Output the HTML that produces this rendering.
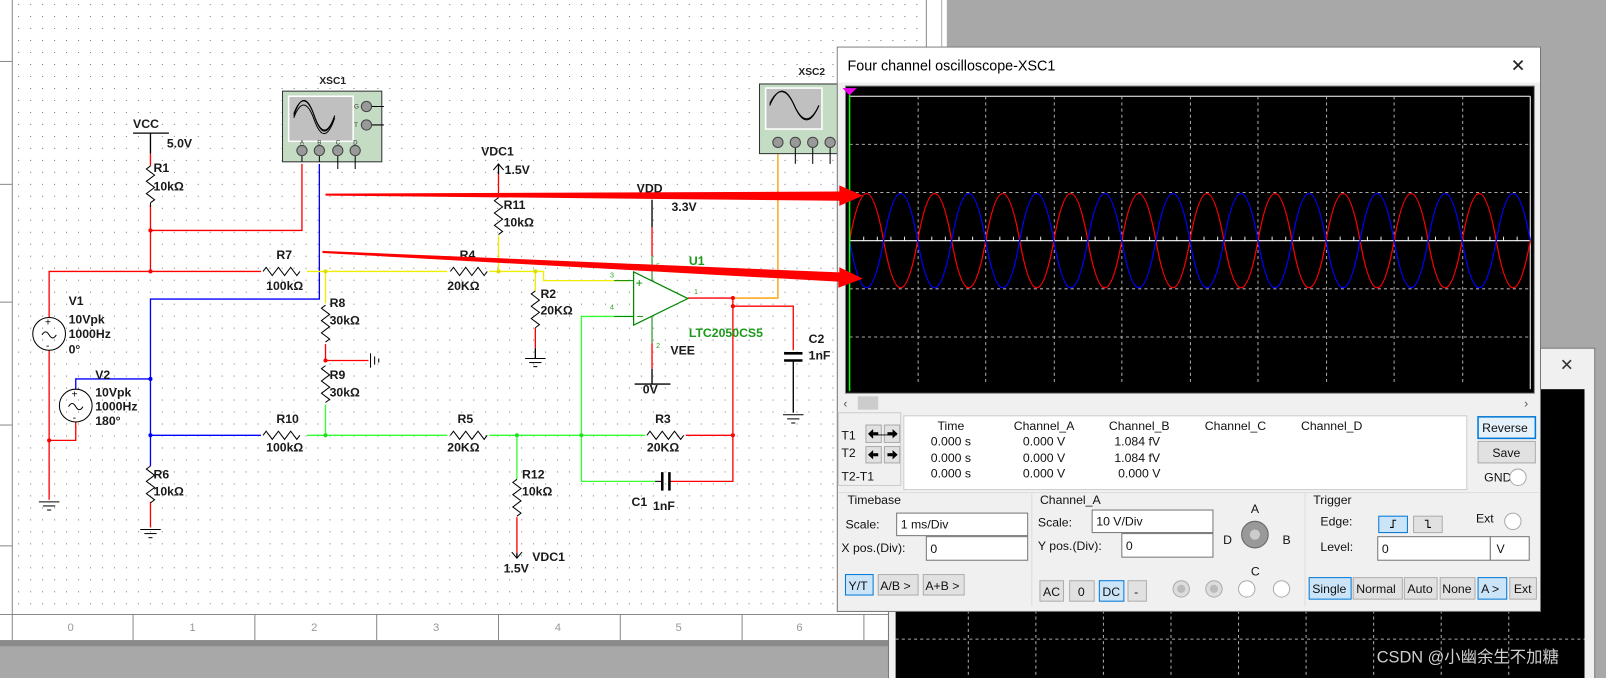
<!DOCTYPE html>
<html><head><meta charset="utf-8"><style>
html,body{margin:0;padding:0;background:#a8a8a8;overflow:hidden}
svg{display:block}
text{font-family:"Liberation Sans","Noto Sans CJK SC",sans-serif}
.s{font-size:12px;font-weight:bold;fill:#1a1a1a}
.u{font-size:12px;fill:#111}
</style></head><body>
<svg width="1606" height="678" viewBox="0 0 1569 662" preserveAspectRatio="none" xmlns="http://www.w3.org/2000/svg">
<defs>
<pattern id="dots" x="6" y="4" width="11.7" height="11.7" patternUnits="userSpaceOnUse"><rect x="0" y="0" width="1" height="1" fill="#777"/></pattern>
<path id="rh" d="M0 0 l3 -4 l6 8 l6 -8 l6 8 l6 -8 l6 8 l3 -4" fill="none" stroke="#000" stroke-width="1"/>
<path id="rv" d="M0 0 l-4 3 l8 6 l-8 6 l8 6 l-8 6 l8 6 l-4 3" fill="none" stroke="#000" stroke-width="1"/>
<g id="gnd"><line x1="-10" y1="0" x2="10" y2="0" stroke="#000"/><line x1="-6" y1="4" x2="6" y2="4" stroke="#000"/><line x1="-2" y1="8" x2="2" y2="8" stroke="#000"/></g>
</defs>
<!-- background -->
<rect x="0" y="0" width="1569" height="662" fill="#a8a8a8"/>
<rect x="0" y="0" width="925" height="625" fill="#fff"/>
<rect x="12" y="0" width="893" height="600" fill="url(#dots)"/>
<line x1="12" y1="0" x2="12" y2="625" stroke="#888"/>
<line x1="905" y1="0" x2="905" y2="625" stroke="#888"/>
<line x1="920" y1="0" x2="920" y2="625" stroke="#aaa"/>
<line x1="0" y1="600" x2="905" y2="600" stroke="#888"/>
<g stroke="#888"><line x1="0" y1="60" x2="12" y2="60"/><line x1="0" y1="180" x2="12" y2="180"/><line x1="0" y1="295" x2="12" y2="295"/><line x1="0" y1="415" x2="12" y2="415"/><line x1="0" y1="533" x2="12" y2="533"/>
<line x1="130" y1="600" x2="130" y2="625"/><line x1="249" y1="600" x2="249" y2="625"/><line x1="368" y1="600" x2="368" y2="625"/><line x1="487" y1="600" x2="487" y2="625"/><line x1="606" y1="600" x2="606" y2="625"/><line x1="725" y1="600" x2="725" y2="625"/><line x1="844" y1="600" x2="844" y2="625"/></g>
<g font-size="11" fill="#999"><text x="66" y="616">0</text><text x="185" y="616">1</text><text x="304" y="616">2</text><text x="423" y="616">3</text><text x="542" y="616">4</text><text x="660" y="616">5</text><text x="778" y="616">6</text></g>
<rect x="0" y="625" width="925" height="6" fill="#8a8a8a"/>

<!-- wires -->
<g fill="none" stroke-width="1.3">
<!-- red -->
<polyline stroke="#f00" points="147,150 147,162"/>
<polyline stroke="#f00" points="147,200 147,265"/>
<polyline stroke="#f00" points="147,225 295,225 295,160"/>
<polyline stroke="#f00" points="48,310 48,265 255,265"/>
<polyline stroke="#f00" points="48,342 48,488"/>
<polyline stroke="#f00" points="48,430 74,430 74,412"/>
<polyline stroke="#f00" points="147,490 147,515"/>
<polyline stroke="#f00" points="318,336 318,352 360,352"/>
<polyline stroke="#f00" points="487,170 487,193"/>
<polyline stroke="#f00" points="523,320 523,340"/>
<polyline stroke="#f00" points="505,505 505,540"/>
<polyline stroke="#f00" points="672,291 716,291 716,470 654,470"/>
<polyline stroke="#f00" points="716,299 775,299 775,342"/>
<polyline stroke="#f00" points="670,425 716,425"/>
<polyline stroke="#f00" points="637,222 637,250"/>
<polyline stroke="#f00" points="637,335 637,360"/>
<!-- blue -->
<polyline stroke="#00f" points="312,160 312,292 147,292 147,455"/>
<polyline stroke="#00f" points="74,380 74,370 147,370"/>
<polyline stroke="#00f" points="147,425 255,425"/>
<!-- yellow -->
<polyline stroke="#ee0" points="300,265 437,265"/>
<polyline stroke="#ee0" points="478,265 531,265 531,274 615,274"/>
<polyline stroke="#ee0" points="318,265 318,296"/>
<polyline stroke="#ee0" points="487,230 487,265"/>
<polyline stroke="#ee0" points="523,265 523,284"/>
<!-- green -->
<polyline stroke="#3f3" points="300,425 437,425"/>
<polyline stroke="#3f3" points="478,425 630,425"/>
<polyline stroke="#3f3" points="318,395 318,425"/>
<polyline stroke="#3f3" points="505,425 505,468"/>
<polyline stroke="#3f3" points="619,309 568,309 568,470 640,470"/>
<!-- orange -->
<polyline stroke="#f90" points="716,291 760,291 760,150"/>
<!-- black -->
<polyline stroke="#000" points="147,130 147,150"/>
<line x1="130" y1="130" x2="165" y2="130" stroke="#000"/>
<polyline stroke="#000" points="487,160 487,170"/>
<polyline stroke="#000" points="637,195 637,222"/>
<line x1="620" y1="375" x2="655" y2="375" stroke="#000"/>
<polyline stroke="#000" points="637,360 637,375"/>
<polyline stroke="#000" points="775,352 775,403"/>
<polyline stroke="#000" points="523,340 523,350"/>
<polyline stroke="#000" points="505,540 505,545"/>
</g>
<!-- junctions -->
<g fill="#f00"><circle cx="147" cy="225" r="2"/><circle cx="147" cy="265" r="2"/><circle cx="48" cy="430" r="2"/><circle cx="318" cy="352" r="2"/><circle cx="716" cy="291" r="2"/><circle cx="716" cy="299" r="2"/><circle cx="716" cy="425" r="2"/></g>
<g fill="#00f"><circle cx="147" cy="370" r="2"/><circle cx="147" cy="425" r="2"/></g>
<g fill="#dd0"><circle cx="318" cy="265" r="2"/><circle cx="487" cy="265" r="2"/><circle cx="523" cy="265" r="2"/></g>
<g fill="#2d2"><circle cx="318" cy="425" r="2"/><circle cx="505" cy="425" r="2"/><circle cx="568" cy="425" r="2"/></g>
<!-- resistors -->
<use href="#rv" x="147" y="162"/><use href="#rv" x="487" y="193"/><use href="#rv" x="523" y="284"/>
<use href="#rv" x="318" y="298"/><use href="#rv" x="318" y="357"/><use href="#rv" x="147" y="455"/><use href="#rv" x="505" y="468"/>
<use href="#rh" x="257" y="265"/><use href="#rh" x="440" y="265"/><use href="#rh" x="257" y="425"/><use href="#rh" x="440" y="425"/><use href="#rh" x="632" y="425"/>
<g stroke="#000" fill="none"><line x1="147" y1="198" x2="147" y2="202"/></g>
<!-- grounds -->
<use href="#gnd" x="48" y="490"/><use href="#gnd" x="147" y="517"/><use href="#gnd" x="523" y="350"/><use href="#gnd" x="775" y="405"/>
<g stroke="#000"><line x1="362" y1="345" x2="362" y2="359"/><line x1="366" y1="348" x2="366" y2="356"/><line x1="370" y1="350" x2="370" y2="354"/></g>
<!-- arrows VDC -->
<path d="M482 166 L487 160 L492 166" fill="none" stroke="#000"/>
<path d="M500 539 L505 545 L510 539" fill="none" stroke="#000"/>
<!-- capacitors -->
<g stroke="#000" stroke-width="2.5"><line x1="766" y1="345" x2="784" y2="345"/><line x1="766" y1="352" x2="784" y2="352"/><line x1="647" y1="461" x2="647" y2="479"/><line x1="654" y1="461" x2="654" y2="479"/></g>
<line x1="640" y1="470" x2="647" y2="470" stroke="#000"/>
<!-- sources -->
<g fill="none" stroke="#000"><circle cx="48" cy="326" r="16"/><circle cx="74" cy="396" r="16"/>
<path d="M41 327 q3.5 -6 7 0 t7 0"/><path d="M67 397 q3.5 -6 7 0 t7 0"/></g>
<g font-size="10" fill="#000"><text x="44" y="318">+</text><text x="45" y="341">-</text><text x="70" y="388">+</text><text x="71" y="411">-</text></g>
<!-- opamp -->
<polygon points="619,265.5 619,317.5 672,291.5" fill="#fff" stroke="#080" stroke-width="1.2"/>
<g stroke="#080"><line x1="637" y1="250" x2="637" y2="274"/><line x1="637" y1="309" x2="637" y2="335"/><line x1="600" y1="274" x2="619" y2="274"/><line x1="600" y1="309" x2="619" y2="309"/></g>
<g font-size="12" fill="#080"><text x="621" y="280">+</text><text x="622" y="313">−</text></g>
<g font-size="7" fill="#2a2"><text x="596" y="271">3</text><text x="596" y="302">4</text><text x="641" y="262">5</text><text x="678" y="287">1</text><text x="641" y="340">2</text></g>
<text x="673" y="259" font-size="12" font-weight="bold" fill="#1a9a1a">U1</text>
<text x="673" y="329" font-size="12" font-weight="bold" fill="#1a9a1a">LTC2050CS5</text>
<!-- labels -->
<g class="s">
<text x="130" y="125">VCC</text><text x="163" y="144">5.0V</text>
<text x="150" y="168">R1</text><text x="150" y="186">10kΩ</text>
<text x="270" y="253">R7</text><text x="260" y="283">100kΩ</text>
<text x="449" y="253">R4</text><text x="437" y="283">20KΩ</text>
<text x="470" y="152">VDC1</text><text x="493" y="170">1.5V</text>
<text x="492" y="204">R11</text><text x="492" y="221">10kΩ</text>
<text x="528" y="291">R2</text><text x="528" y="307">20KΩ</text>
<text x="622" y="188">VDD</text><text x="656" y="206">3.3V</text>
<text x="655" y="346">VEE</text><text x="628" y="384">0V</text>
<text x="322" y="300">R8</text><text x="322" y="317">30kΩ</text>
<text x="322" y="370">R9</text><text x="322" y="387">30kΩ</text>
<text x="67" y="298">V1</text><text x="67" y="316">10Vpk</text><text x="67" y="330">1000Hz</text><text x="67" y="345">0°</text>
<text x="93" y="370">V2</text><text x="93" y="387">10Vpk</text><text x="93" y="401">1000Hz</text><text x="93" y="415">180°</text>
<text x="270" y="413">R10</text><text x="260" y="441">100kΩ</text>
<text x="447" y="413">R5</text><text x="437" y="441">20KΩ</text>
<text x="640" y="413">R3</text><text x="632" y="441">20KΩ</text>
<text x="150" y="467">R6</text><text x="150" y="484">10kΩ</text>
<text x="510" y="467">R12</text><text x="510" y="484">10kΩ</text>
<text x="520" y="548">VDC1</text><text x="492" y="559">1.5V</text>
<text x="790" y="335">C2</text><text x="790" y="351">1nF</text>
<text x="617" y="494">C1</text><text x="638" y="498">1nF</text>
</g>
<!-- XSC1 -->
<text x="312" y="82" font-size="10" font-weight="bold" fill="#222">XSC1</text>
<rect x="276" y="89" width="97" height="69" fill="#c4dcc4" stroke="#333"/>
<rect x="282" y="94" width="63" height="44" fill="#c0c0c0" stroke="#fff" stroke-width="1.5"/>
<g fill="none" stroke="#000"><path d="M287 113 q10 -30 20 0 t20 0"/><path d="M287 111 q10 -26 20 2 t20 0"/><path d="M287 115 q10 -26 20 2 t20 -2"/></g>
<g stroke="#000"><line x1="295" y1="147" x2="295" y2="158"/><line x1="312" y1="147" x2="312" y2="158"/><line x1="330" y1="147" x2="330" y2="165"/><line x1="347" y1="147" x2="347" y2="165"/><line x1="358" y1="104" x2="375" y2="104"/><line x1="358" y1="122" x2="375" y2="122"/></g>
<g fill="#999" stroke="#444"><circle cx="295" cy="147" r="5"/><circle cx="312" cy="147" r="5"/><circle cx="330" cy="147" r="5"/><circle cx="347" cy="147" r="5"/><circle cx="358" cy="104" r="5"/><circle cx="358" cy="122" r="5"/></g>
<g font-size="6" fill="#333"><text x="293" y="141">A</text><text x="310" y="141">B</text><text x="328" y="141">C</text><text x="345" y="141">D</text><text x="346" y="106">G</text><text x="346" y="124">T</text></g>
<!-- XSC2 -->
<text x="780" y="73" font-size="10" font-weight="bold" fill="#222">XSC2</text>
<rect x="742" y="82" width="80" height="68" fill="#c4dcc4" stroke="#333"/>
<rect x="748" y="86" width="55" height="40" fill="#c0c0c0" stroke="#fff" stroke-width="1.5"/>
<g fill="none" stroke="#000"><path d="M752 103 q12 -28 24 0 t24 0"/><path d="M752 101 q12 -24 24 2 t24 0"/></g>
<g stroke="#000"><line x1="777" y1="139" x2="777" y2="160"/><line x1="794" y1="139" x2="794" y2="160"/><line x1="811" y1="139" x2="811" y2="160"/></g>
<g fill="#999" stroke="#444"><circle cx="760" cy="139" r="5"/><circle cx="777" cy="139" r="5"/><circle cx="794" cy="139" r="5"/><circle cx="811" cy="139" r="5"/></g>

<!-- back window -->
<rect x="868" y="340" width="690" height="330" fill="#f0f0f0" stroke="#777"/>
<text x="1524" y="362" font-size="16" fill="#333">✕</text>
<rect x="875" y="380" width="673" height="290" fill="#000"/>
<g stroke="#aaa" stroke-dasharray="3 3"><line x1="875" y1="624" x2="1548" y2="624"/><line x1="946" y1="380" x2="946" y2="662"/><line x1="1012" y1="380" x2="1012" y2="662"/><line x1="1078" y1="380" x2="1078" y2="662"/><line x1="1144" y1="380" x2="1144" y2="662"/><line x1="1210" y1="380" x2="1210" y2="662"/><line x1="1276" y1="380" x2="1276" y2="662"/><line x1="1342" y1="380" x2="1342" y2="662"/><line x1="1408" y1="380" x2="1408" y2="662"/><line x1="1474" y1="380" x2="1474" y2="662"/></g>
<text x="1345" y="647" font-size="16" fill="#cfcfcf">CSDN @小幽余生不加糖</text>

<!-- main scope window -->
<rect x="818" y="46" width="687" height="551" fill="#f0f0f0" stroke="#777"/>
<rect x="818.5" y="46.5" width="686" height="34" fill="#fff"/>
<text x="828" y="69" font-size="14" fill="#000">Four channel oscilloscope-XSC1</text>
<text x="1476" y="70" font-size="17" fill="#222">✕</text>
<rect x="826" y="84" width="673" height="300" fill="#000" stroke="#888"/>
<line x1="830" y1="94" x2="1495" y2="94" stroke="#fff"/>
<line x1="1495" y1="94" x2="1495" y2="380" stroke="#fff"/>
<g stroke="#aaa" stroke-dasharray="3 3">
<line x1="830" y1="141" x2="1495" y2="141"/><line x1="830" y1="188" x2="1495" y2="188"/><line x1="830" y1="282" x2="1495" y2="282"/><line x1="830" y1="329" x2="1495" y2="329"/>
<line x1="897" y1="94" x2="897" y2="376"/><line x1="963" y1="94" x2="963" y2="376"/><line x1="1030" y1="94" x2="1030" y2="376"/><line x1="1096" y1="94" x2="1096" y2="376"/><line x1="1163" y1="94" x2="1163" y2="376"/><line x1="1229" y1="94" x2="1229" y2="376"/><line x1="1296" y1="94" x2="1296" y2="376"/><line x1="1362" y1="94" x2="1362" y2="376"/><line x1="1429" y1="94" x2="1429" y2="376"/></g>
<line x1="830" y1="235" x2="1495" y2="235" stroke="#fff" stroke-width="1.2"/>
<path d="M830 233 h665" stroke="#fff" stroke-dasharray="1 12.3" stroke-width="4" fill="none" opacity="0.9"/>
<path d="M830 235 q16.625 -92 33.25 0 t33.25 0 t33.25 0 t33.25 0 t33.25 0 t33.25 0 t33.25 0 t33.25 0 t33.25 0 t33.25 0 t33.25 0 t33.25 0 t33.25 0 t33.25 0 t33.25 0 t33.25 0 t33.25 0 t33.25 0 t33.25 0 t33.25 0" fill="none" stroke="#f00" stroke-width="1.2"/>
<path d="M830 235 q16.625 92 33.25 0 t33.25 0 t33.25 0 t33.25 0 t33.25 0 t33.25 0 t33.25 0 t33.25 0 t33.25 0 t33.25 0 t33.25 0 t33.25 0 t33.25 0 t33.25 0 t33.25 0 t33.25 0 t33.25 0 t33.25 0 t33.25 0 t33.25 0" fill="none" stroke="#00f" stroke-width="1.2"/>
<line x1="830" y1="86" x2="830" y2="382" stroke="#0f0" stroke-width="1.5"/>
<polygon points="823,86 837,86 830,93" fill="#e0e"/>
<!-- scrollbar -->
<text x="824" y="398" font-size="12" fill="#555">‹</text><rect x="838" y="387" width="20" height="13" fill="#ccc"/><text x="1489" y="398" font-size="12" fill="#555">›</text>
<!-- T panel -->
<rect x="819" y="403" width="61" height="71" fill="#f0f0f0" stroke="#ccc"/>
<g class="u"><text x="822" y="429">T1</text><text x="822" y="446">T2</text><text x="822" y="469">T2-T1</text></g>
<g fill="#e1e1e1" stroke="#aaa"><rect x="846" y="415" width="15" height="17"/><rect x="864" y="415" width="15" height="17"/><rect x="846" y="436" width="15" height="16"/><rect x="864" y="436" width="15" height="16"/></g>
<g font-size="11" fill="#000"><text x="848" y="428">🡐</text></g>
<g fill="#000"><polygon points="848,423.5 853,419 853,428"/><rect x="853" y="422" width="5" height="3"/><polygon points="877,423.5 872,419 872,428"/><rect x="867" y="422" width="5" height="3"/>
<polygon points="848,444 853,439.5 853,448.5"/><rect x="853" y="442.5" width="5" height="3"/><polygon points="877,444 872,439.5 872,448.5"/><rect x="867" y="442.5" width="5" height="3"/></g>
<rect x="883" y="406" width="550" height="72" fill="#fff" stroke="#ccc"/>
<g class="u" text-anchor="middle"><text x="929" y="420">Time</text><text x="1020" y="420">Channel_A</text><text x="1113" y="420">Channel_B</text><text x="1207" y="420">Channel_C</text><text x="1301" y="420">Channel_D</text>
<text x="929" y="435">0.000 s</text><text x="1020" y="435">0.000 V</text><text x="1111" y="435">1.084 fV</text>
<text x="929" y="451">0.000 s</text><text x="1020" y="451">0.000 V</text><text x="1111" y="451">1.084 fV</text>
<text x="929" y="466">0.000 s</text><text x="1020" y="466">0.000 V</text><text x="1113" y="466">0.000 V</text></g>
<rect x="1444" y="407" width="56" height="21" fill="#e5f1fb" stroke="#0078d7" stroke-width="1.5"/><text x="1448" y="422" class="u">Reverse</text>
<rect x="1444" y="431" width="56" height="21" fill="#e1e1e1" stroke="#adadad"/><text x="1458" y="446" class="u">Save</text>
<text x="1450" y="470" class="u">GND</text><circle cx="1483" cy="466" r="8" fill="#fff" stroke="#aaa"/>
<!-- groups -->
<g stroke="#ddd" fill="none"><line x1="819" y1="481" x2="1503" y2="481"/><line x1="1008" y1="481" x2="1008" y2="592"/><line x1="1275" y1="481" x2="1275" y2="592"/></g>
<g class="u"><text x="828" y="492">Timebase</text><text x="1016" y="492">Channel_A</text><text x="1283" y="492">Trigger</text>
<text x="826" y="516">Scale:</text><text x="822" y="539">X pos.(Div):</text>
<text x="1014" y="514">Scale:</text><text x="1014" y="537">Y pos.(Div):</text>
<text x="1290" y="513">Edge:</text><text x="1290" y="538">Level:</text><text x="1442" y="510">Ext</text></g>
<g fill="#fff" stroke="#777"><rect x="876" y="501" width="128" height="22"/><rect x="905" y="524" width="99" height="23"/><rect x="1067" y="498" width="118" height="22"/><rect x="1096" y="521" width="89" height="23"/><rect x="1346" y="524" width="110" height="23"/><rect x="1456" y="524" width="38" height="23"/></g>
<g class="u"><text x="880" y="516">1 ms/Div</text><text x="909" y="540">0</text><text x="1071" y="513">10  V/Div</text><text x="1100" y="537">0</text><text x="1350" y="540">0</text><text x="1462" y="540">V</text></g>
<circle cx="1226" cy="522" r="13" fill="#999" stroke="#666"/><circle cx="1226" cy="522" r="5" fill="#ccc"/>
<g class="u"><text x="1222" y="501">A</text><text x="1195" y="531">D</text><text x="1253" y="531">B</text><text x="1222" y="562">C</text></g>
<circle cx="1478" cy="509" r="8" fill="#fff" stroke="#aaa"/>
<rect x="1347" y="504" width="28" height="16" fill="#cce4f7" stroke="#0078d7"/><rect x="1381" y="504" width="28" height="16" fill="#e1e1e1" stroke="#adadad"/>
<path d="M1358 515 h3 v-7 h3" stroke="#000" fill="none"/><path d="M1392 508 h3 v7 h3" stroke="#000" fill="none"/>
<!-- buttons -->
<rect x="826" y="561" width="27" height="20" fill="#cce4f7" stroke="#0078d7"/><text x="829" y="576" class="u">Y/T</text>
<rect x="858" y="561" width="39" height="20" fill="#e1e1e1" stroke="#adadad"/><text x="860" y="576" class="u">A/B &gt;</text>
<rect x="902" y="561" width="40" height="20" fill="#e1e1e1" stroke="#adadad"/><text x="904" y="576" class="u">A+B &gt;</text>
<rect x="1016" y="567" width="23" height="20" fill="#e1e1e1" stroke="#adadad"/><text x="1019" y="582" class="u">AC</text>
<rect x="1045" y="567" width="24" height="20" fill="#e1e1e1" stroke="#adadad"/><text x="1053" y="582" class="u">0</text>
<rect x="1074" y="567" width="24" height="20" fill="#cce4f7" stroke="#0078d7"/><text x="1077" y="582" class="u">DC</text>
<rect x="1102" y="567" width="18" height="20" fill="#e1e1e1" stroke="#adadad"/><text x="1108" y="582" class="u">-</text>
<g stroke="#aaa"><circle cx="1154" cy="575" r="8" fill="#ddd"/><circle cx="1186" cy="575" r="8" fill="#ddd"/><circle cx="1218" cy="575" r="8" fill="#fff"/><circle cx="1252" cy="575" r="8" fill="#fff"/></g>
<g fill="#bbb"><circle cx="1154" cy="575" r="4"/><circle cx="1186" cy="575" r="4"/></g>
<rect x="1279" y="564" width="41" height="21" fill="#cce4f7" stroke="#0078d7"/><text x="1282" y="579" class="u">Single</text>
<rect x="1322" y="564" width="48" height="21" fill="#e1e1e1" stroke="#adadad"/><text x="1325" y="579" class="u">Normal</text>
<rect x="1372" y="564" width="32" height="21" fill="#e1e1e1" stroke="#adadad"/><text x="1375" y="579" class="u">Auto</text>
<rect x="1407" y="564" width="34" height="21" fill="#e1e1e1" stroke="#adadad"/><text x="1409" y="579" class="u">None</text>
<rect x="1444" y="564" width="28" height="21" fill="#cce4f7" stroke="#0078d7"/><text x="1447" y="579" class="u">A &gt;</text>
<rect x="1475" y="564" width="26" height="21" fill="#e1e1e1" stroke="#adadad"/><text x="1479" y="579" class="u">Ext</text>

<!-- red annotation arrows -->
<polygon points="318,189 820,187 820,181 843,191 820,201 820,196 318,191" fill="#f00"/>
<polygon points="315,245 820,266 820,261 843,272 819,281 819,275 315,247" fill="#f00"/>
</svg>
</body></html>
